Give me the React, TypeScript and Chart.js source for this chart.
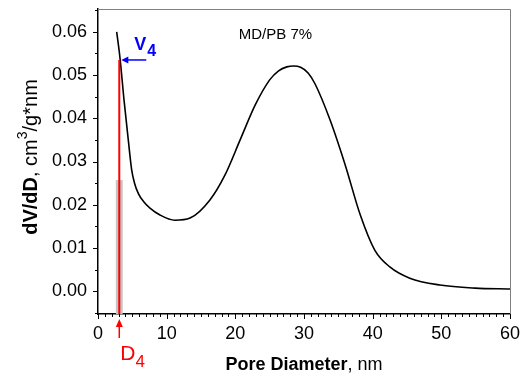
import React, { useEffect, useRef } from "react";
import { Chart, registerables } from "chart.js";

Chart.register(...registerables);

// Pore diameter (nm) and dV/dD (cm3/g*nm)
const poreDiameter = [2.72, 3.2, 3.79, 4.41, 4.91, 5.3, 5.9, 6.6, 7.57, 9.03, 11.2, 13.4, 16.3, 18.5, 20.7, 22.9, 25.0, 26.3, 27.5, 28.5, 29.5, 30.6, 31.6, 33.8, 36.0, 38.2, 40.3, 42.5, 45.4, 49.8, 54.9, 60];
const dVdD = [0.06, 0.054, 0.0442, 0.035, 0.028, 0.0251, 0.0225, 0.0208, 0.0192, 0.0176, 0.0164, 0.0169, 0.0211, 0.0269, 0.035, 0.0431, 0.0489, 0.051, 0.0519, 0.0521, 0.0518, 0.0505, 0.048, 0.0396, 0.0292, 0.0176, 0.0095, 0.0056, 0.003, 0.0014, 0.0007, 0.0005];

const xMin = 0;
const xMax = 60;
const xMajorStep = 10;
const xMinorStep = 1;
const yMin = -0.0053;
const yMax = 0.0653;
const yMajorStep = 0.01;
const yMinorStep = 0.005;

// annotation values
const D4 = 3.1;
const V4 = 0.0535;
const barHalfWidth = 0.5;
const barTop = 0.0257;
const sampleLabel = "MD/PB 7%";
const sampleLabelX = 20.5;
const sampleLabelY = 0.0593;

const FONT = "'Liberation Sans', Arial, sans-serif";

function drawParts(ctx: CanvasRenderingContext2D, parts: { t: string; f: string; dy: number }[], cx: number, cy: number) {
  let total = 0;
  for (const p of parts) {
    ctx.font = p.f;
    total += ctx.measureText(p.t).width;
  }
  let x = cx - total / 2;
  for (const p of parts) {
    ctx.font = p.f;
    ctx.fillText(p.t, x, cy + p.dy);
    x += ctx.measureText(p.t).width;
  }
}

const decorPlugin = {
  id: "decor",
  afterDatasetsDraw(chart: any) {
    const ctx: CanvasRenderingContext2D = chart.ctx;
    const xs = chart.scales.x;
    const ys = chart.scales.y;
    const a = chart.chartArea;
    ctx.save();
    // gray bar
    const bl = xs.getPixelForValue(D4 - barHalfWidth);
    const br = xs.getPixelForValue(D4 + barHalfWidth);
    const bt = ys.getPixelForValue(barTop);
    ctx.fillStyle = "#c4c4c4";
    ctx.fillRect(bl, bt, br - bl, a.bottom - bt);
    // red line
    const dx = xs.getPixelForValue(D4);
    const vy = ys.getPixelForValue(V4);
    ctx.strokeStyle = "#ff0000";
    ctx.lineWidth = 2;
    ctx.beginPath();
    ctx.moveTo(dx, vy);
    ctx.lineTo(dx, a.bottom);
    ctx.stroke();
    ctx.restore();
  },
  afterDraw(chart: any) {
    const ctx: CanvasRenderingContext2D = chart.ctx;
    const xs = chart.scales.x;
    const ys = chart.scales.y;
    const a = chart.chartArea;
    ctx.save();
    // top / right frame
    ctx.strokeStyle = "#808080";
    ctx.lineWidth = 1;
    ctx.beginPath();
    ctx.moveTo(a.left, a.top + 0.5);
    ctx.lineTo(a.right + 0.5, a.top + 0.5);
    ctx.lineTo(a.right + 0.5, a.bottom);
    ctx.stroke();
    // ticks
    ctx.strokeStyle = "#000";
    ctx.lineWidth = 1;
    ctx.beginPath();
    const ny = Math.round((yMax - yMin) / yMinorStep) + 2;
    for (let k = -2; k < ny; k++) {
      const v = k * yMinorStep;
      if (v < yMin || v > yMax) continue;
      const py = Math.round(ys.getPixelForValue(v)) + 0.5;
      const major = Math.abs(v / yMajorStep - Math.round(v / yMajorStep)) < 1e-6;
      const len = major ? 5 : 3;
      ctx.moveTo(a.left - len, py);
      ctx.lineTo(a.left, py);
    }
    for (let v = xMin; v <= xMax + 1e-9; v += xMinorStep) {
      const px = Math.round(xs.getPixelForValue(v)) + 0.5;
      const major = Math.abs(v / xMajorStep - Math.round(v / xMajorStep)) < 1e-6;
      const len = major ? 5 : 3;
      ctx.moveTo(px, a.bottom);
      ctx.lineTo(px, a.bottom + len);
    }
    ctx.stroke();

    // x title
    ctx.fillStyle = "#000";
    ctx.textBaseline = "middle";
    ctx.textAlign = "left";
    drawParts(
      ctx,
      [
        { t: "Pore Diameter", f: `bold 18px ${FONT}`, dy: 0 },
        { t: ", nm", f: `18px ${FONT}`, dy: 0 },
      ],
      (a.left + a.right) / 2,
      365
    );
    // y title
    ctx.save();
    ctx.translate(31, 157);
    ctx.rotate(-Math.PI / 2);
    ctx.textBaseline = "middle";
    drawParts(
      ctx,
      [
        { t: "dV/dD", f: `bold 20px ${FONT}`, dy: 0 },
        { t: ", cm", f: `20px ${FONT}`, dy: 0 },
        { t: "3", f: `14px ${FONT}`, dy: -8 },
        { t: "/g*nm", f: `20px ${FONT}`, dy: 0 },
      ],
      0,
      0
    );
    ctx.restore();

    // sample label
    ctx.fillStyle = "#000";
    ctx.font = `15px ${FONT}`;
    ctx.textBaseline = "middle";
    ctx.fillText(sampleLabel, xs.getPixelForValue(sampleLabelX), ys.getPixelForValue(sampleLabelY));

    // blue V4 arrow + label
    const dx = xs.getPixelForValue(D4);
    const vy = ys.getPixelForValue(V4);
    ctx.strokeStyle = "#0000ff";
    ctx.fillStyle = "#0000ff";
    ctx.lineWidth = 1.5;
    ctx.beginPath();
    ctx.moveTo(dx + 27, vy);
    ctx.lineTo(dx + 6, vy);
    ctx.stroke();
    ctx.beginPath();
    ctx.moveTo(dx + 2, vy);
    ctx.lineTo(dx + 9, vy - 3.5);
    ctx.lineTo(dx + 9, vy + 3.5);
    ctx.closePath();
    ctx.fill();
    ctx.textBaseline = "alphabetic";
    ctx.font = `bold 18px ${FONT}`;
    ctx.fillText("V", dx + 15, vy - 10);
    const vw = ctx.measureText("V").width;
    ctx.font = `bold 16px ${FONT}`;
    ctx.fillText("4", dx + 15 + vw + 1, vy - 4);

    // red arrow below axis + D4 label
    ctx.strokeStyle = "#ff0000";
    ctx.fillStyle = "#ff0000";
    ctx.lineWidth = 1.5;
    ctx.beginPath();
    ctx.moveTo(dx, a.bottom + 24);
    ctx.lineTo(dx, a.bottom + 11);
    ctx.stroke();
    ctx.beginPath();
    ctx.moveTo(dx, a.bottom + 5);
    ctx.lineTo(dx - 3.5, a.bottom + 13);
    ctx.lineTo(dx + 3.5, a.bottom + 13);
    ctx.closePath();
    ctx.fill();
    ctx.font = `21px ${FONT}`;
    ctx.fillText("D", dx + 1, a.bottom + 46);
    const dw = ctx.measureText("D").width;
    ctx.font = `17px ${FONT}`;
    ctx.fillText("4", dx + 1 + dw, a.bottom + 53);
    ctx.restore();
  },
};

export default function App() {
  const ref = useRef<HTMLCanvasElement | null>(null);
  useEffect(() => {
    document.body.style.margin = "0";
    const canvas = ref.current;
    if (!canvas) return;
    const points = poreDiameter.map((x, i) => ({ x, y: dVdD[i] }));
    const chart = new Chart(canvas, {
      type: "line",
      data: {
        datasets: [
          {
            data: points,
            borderColor: "#000",
            borderWidth: 1.6,
            pointRadius: 0,
            fill: false,
            cubicInterpolationMode: "monotone",
          },
        ],
      },
      options: {
        animation: false,
        responsive: true,
        maintainAspectRatio: false,
        layout: { padding: { top: 9, right: 15, left: 0, bottom: 0 } },
        plugins: { legend: { display: false }, tooltip: { enabled: false } },
        scales: {
          x: {
            type: "linear",
            min: xMin,
            max: xMax,
            grid: { display: false, drawTicks: false },
            border: { display: true, color: "#000", width: 1.5 },
            ticks: {
              stepSize: xMajorStep,
              color: "#000",
              font: { family: FONT, size: 18 },
              padding: 9,
              maxRotation: 0,
              callback: (v: any) => String(v),
            },
            afterFit: (s: any) => {
              s.height = 62;
              s.paddingLeft = 0;
              s.paddingRight = 0;
            },
          },
          y: {
            type: "linear",
            min: yMin,
            max: yMax,
            grid: { display: false, drawTicks: false },
            border: { display: true, color: "#000", width: 1.5 },
            ticks: {
              stepSize: yMajorStep,
              includeBounds: false,
              color: "#000",
              font: { family: FONT, size: 18 },
              padding: 11,
              callback: (v: any) => Number(v).toFixed(2),
            },
            afterFit: (s: any) => {
              s.width = 98;
              s.paddingTop = 0;
              s.paddingBottom = 0;
            },
          },
        },
      },
      plugins: [decorPlugin],
    } as any);
    return () => chart.destroy();
  }, []);
  return (
    <div style={{ width: 525, height: 376, position: "relative" }}>
      <canvas ref={ref} />
    </div>
  );
}
